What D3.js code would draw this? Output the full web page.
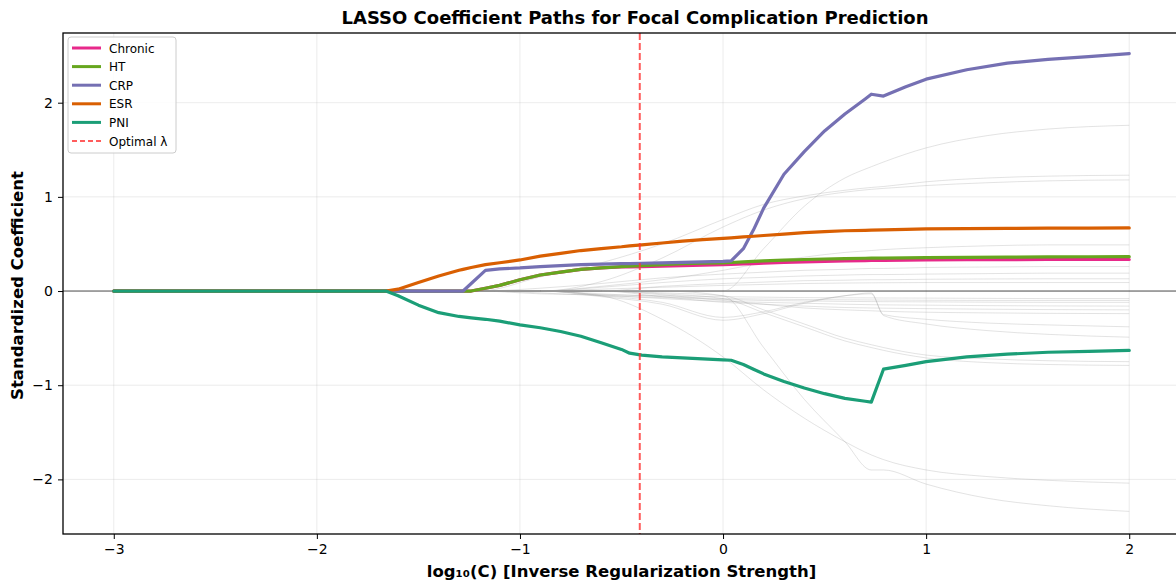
<!DOCTYPE html>
<html><head><meta charset="utf-8">
<script src="https://cdn.jsdelivr.net/npm/d3@7"></script>
<style>body{margin:0;background:#fff}svg{display:block;font-family:"DejaVu Sans",sans-serif}</style>
</head><body><svg id="c" width="1176" height="584"></svg>
<script>
// ---- Data ----
const xs = [-3, -2, -1.66, -1.6, -1.5, -1.4, -1.3, -1.28, -1.24, -1.17, -1.1, -1.0, -0.9, -0.8, -0.7, -0.6, -0.5, -0.46, -0.4, -0.3, -0.2, -0.1, 0, 0.04, 0.1, 0.15, 0.2, 0.3, 0.4, 0.5, 0.6, 0.7, 0.73, 0.79, 0.9, 1.0, 1.2, 1.4, 1.6, 1.8, 2.0];
const chronic = [0,0,0,0,0,0,0,0,0,0.03,0.06,0.12,0.17,0.20,0.23,0.245,0.255,0.257,0.26,0.265,0.27,0.275,0.28,0.282,0.287,0.292,0.297,0.303,0.31,0.315,0.32,0.323,0.324,0.325,0.327,0.33,0.332,0.334,0.335,0.335,0.335];
const ht = [0,0,0,0,0,0,0,0,0,0.03,0.06,0.12,0.17,0.20,0.23,0.245,0.26,0.265,0.27,0.28,0.29,0.295,0.30,0.303,0.31,0.315,0.32,0.328,0.335,0.34,0.345,0.348,0.349,0.35,0.352,0.355,0.358,0.36,0.362,0.364,0.365];
const crp = [0,0,0,0,0,0,0,0,0.08,0.22,0.235,0.245,0.26,0.27,0.28,0.285,0.29,0.292,0.295,0.30,0.305,0.31,0.315,0.32,0.45,0.65,0.88,1.24,1.48,1.70,1.88,2.04,2.09,2.07,2.17,2.25,2.35,2.42,2.46,2.49,2.52];
const esr = [0,0,0,0.02,0.09,0.16,0.22,0.23,0.25,0.28,0.30,0.33,0.37,0.40,0.43,0.45,0.47,0.48,0.49,0.51,0.53,0.545,0.56,0.565,0.575,0.582,0.59,0.605,0.62,0.63,0.64,0.645,0.647,0.65,0.655,0.66,0.663,0.665,0.667,0.669,0.67];
const pni = [0,0,0,-0.05,-0.15,-0.23,-0.27,-0.275,-0.285,-0.30,-0.32,-0.36,-0.39,-0.43,-0.48,-0.55,-0.62,-0.66,-0.68,-0.70,-0.71,-0.72,-0.73,-0.735,-0.78,-0.83,-0.88,-0.96,-1.03,-1.09,-1.14,-1.17,-1.18,-0.83,-0.79,-0.75,-0.70,-0.67,-0.65,-0.64,-0.63];
const seriesNames = ["Chronic", "HT", "CRP", "ESR", "PNI"];
const seriesValues = [chronic, ht, crp, esr, pni];
const seriesColors = ["#e7298a", "#66a61e", "#7570b3", "#d95f02", "#1b9e77"];
const optimalLogC = -0.41;

// background (non-highlighted) coefficient paths
const gx = [-3, -1.6, -1.2, -0.9, -0.6, -0.3, 0, 0.2, 0.4, 0.6, 0.73, 0.79, 1.0, 1.3, 1.6, 2.0];
const greyPaths = [
  [0,0,0,0,0,0,0,0.45,0.9,1.2,1.32,1.37,1.52,1.65,1.72,1.76],
  [0,0,0,0.15,0.3,0.5,0.76,0.92,1.01,1.07,1.10,1.11,1.16,1.2,1.22,1.23],
  [0,0,0,0,0.1,0.35,0.68,0.86,0.98,1.05,1.08,1.09,1.12,1.15,1.17,1.18],
  [0,0,0,0,0.05,0.12,0.22,0.3,0.36,0.41,0.43,0.44,0.46,0.48,0.49,0.49],
  [0,0,0,0.03,0.08,0.14,0.18,0.2,0.22,0.23,0.24,0.24,0.25,0.255,0.26,0.26],
  [0,0,0,0,0.04,0.09,0.13,0.145,0.16,0.17,0.175,0.175,0.18,0.185,0.19,0.19],
  [0,0,0,0,0,0.05,0.08,0.095,0.11,0.115,0.12,0.12,0.125,0.128,0.13,0.13],
  [0,0,0,0,0.02,0.04,0.06,0.07,0.08,0.085,0.087,0.088,0.09,0.09,0.09,0.09],
  [0,0,0,-0.03,-0.04,-0.05,-0.06,-0.065,-0.07,-0.072,-0.073,-0.074,-0.075,-0.078,-0.08,-0.08],
  [0,0,0,0,-0.03,-0.06,-0.08,-0.085,-0.09,-0.093,-0.095,-0.096,-0.098,-0.1,-0.1,-0.1],
  [0,0,0,-0.02,-0.05,-0.07,-0.09,-0.1,-0.105,-0.11,-0.112,-0.113,-0.115,-0.118,-0.12,-0.12],
  [0,0,0,0,-0.04,-0.08,-0.11,-0.12,-0.13,-0.14,-0.145,-0.147,-0.15,-0.155,-0.158,-0.16],
  [0,0,0,0,0,-0.06,-0.12,-0.14,-0.16,-0.175,-0.18,-0.182,-0.187,-0.193,-0.197,-0.2],
  [0,0,0,0,0,-0.04,-0.1,-0.14,-0.18,-0.2,-0.21,-0.215,-0.225,-0.232,-0.237,-0.24],
  [0,0,0,0,-0.06,-0.14,-0.31,-0.24,-0.13,-0.05,-0.02,-0.25,-0.3,-0.34,-0.36,-0.38],
  [0,0,0,0,-0.05,-0.12,-0.28,-0.22,-0.12,-0.05,-0.03,-0.26,-0.35,-0.42,-0.46,-0.49],
  [0,0,0,0,0,-0.02,-0.05,-0.2,-0.35,-0.5,-0.57,-0.6,-0.68,-0.72,-0.74,-0.75],
  [0,0,0,0,0,-0.03,-0.08,-0.23,-0.38,-0.53,-0.6,-0.63,-0.71,-0.76,-0.78,-0.79],
  [0,0,0,0,-0.05,-0.3,-0.7,-1.05,-1.35,-1.6,-1.74,-1.79,-1.9,-1.97,-2.01,-2.04],
  [0,0,0,0,0,0,-0.05,-0.6,-1.15,-1.6,-1.9,-1.9,-2.05,-2.2,-2.28,-2.34]
];
const xTicks = [-3, -2, -1, 0, 1, 2];
const yTicks = [-2, -1, 0, 1, 2];

// ---- Layout ----
const svg = d3.select("#c");
const L = 63, R = 1180, T = 33, B = 534;
const x = d3.scaleLinear().domain([-3.25, 2.25]).range([L, R]);
const y = d3.scaleLinear().domain([-2.58, 2.74]).range([B, T]);

svg.append("defs").append("clipPath").attr("id", "clip")
  .append("rect").attr("x", L).attr("y", T).attr("width", R - L).attr("height", B - T);

// grid
const grid = svg.append("g");
grid.selectAll(".gx").data(xTicks).enter().append("line")
  .attr("x1", d => x(d)).attr("x2", d => x(d)).attr("y1", T).attr("y2", B)
  .attr("stroke", "#b0b0b0").attr("stroke-opacity", 0.3).attr("stroke-width", 0.8);
grid.selectAll(".gy").data(yTicks).enter().append("line")
  .attr("x1", L).attr("x2", R).attr("y1", d => y(d)).attr("y2", d => y(d))
  .attr("stroke", "#b0b0b0").attr("stroke-opacity", 0.3).attr("stroke-width", 0.8);

const plot = svg.append("g").attr("clip-path", "url(#clip)");

// zero line
plot.append("line").attr("x1", L).attr("x2", R).attr("y1", y(0)).attr("y2", y(0))
  .attr("stroke", "#000").attr("stroke-opacity", 0.75).attr("stroke-width", 0.9);

// grey paths
const gline = d3.line().x((d, i) => x(gx[i])).y(d => y(d)).curve(d3.curveMonotoneX);
plot.selectAll(".grey").data(greyPaths).enter().append("path")
  .attr("d", gline).attr("fill", "none").attr("stroke", "#999")
  .attr("stroke-opacity", 0.3).attr("stroke-width", 0.9);

// highlighted
const line = d3.line().x((d, i) => x(xs[i])).y(d => y(d));
seriesValues.forEach((vals, k) => {
  plot.append("path").attr("d", line(vals)).attr("fill", "none")
    .attr("stroke", seriesColors[k]).attr("stroke-width", 3.2)
    .attr("stroke-linejoin", "round").attr("stroke-linecap", "round");
});

// optimal lambda
plot.append("line").attr("x1", x(optimalLogC)).attr("x2", x(optimalLogC)).attr("y1", T).attr("y2", B)
  .attr("stroke", "#ff3333").attr("stroke-opacity", 0.8).attr("stroke-width", 2)
  .attr("stroke-dasharray", "7,3");

// axes
const fmt = d => d3.format("")(d).replace("-", "\u2212");
const xAxis = svg.append("g").attr("transform", `translate(0,${B})`)
  .call(d3.axisBottom(x).tickValues(xTicks).tickSize(5).tickPadding(5).tickFormat(fmt));
const yAxis = svg.append("g").attr("transform", `translate(${L},0)`)
  .call(d3.axisLeft(y).tickValues(yTicks).tickSize(5).tickPadding(5).tickFormat(fmt));
[xAxis, yAxis].forEach(a => {
  a.select(".domain").remove();
  a.selectAll("text").attr("font-size", 14).attr("fill", "#000").attr("font-family", "DejaVu Sans");
  a.selectAll("line").attr("stroke", "#000").attr("stroke-width", 1);
});

// spines
svg.append("rect").attr("x", L).attr("y", T).attr("width", R - L).attr("height", B - T)
  .attr("fill", "none").attr("stroke", "#000").attr("stroke-width", 1.3);

// labels
svg.append("text").attr("x", 635).attr("y", 24).attr("text-anchor", "middle")
  .attr("font-size", 18).attr("font-weight", "bold").text("LASSO Coefficient Paths for Focal Complication Prediction");
svg.append("text").attr("x", (L + R) / 2).attr("y", 577).attr("text-anchor", "middle")
  .attr("font-size", 16.5).attr("font-weight", "bold").text("log\u2081\u2080(C) [Inverse Regularization Strength]");
svg.append("text").attr("transform", `translate(23,${(T + B) / 2 + 2}) rotate(-90)`).attr("text-anchor", "middle")
  .attr("font-size", 16.5).attr("font-weight", "bold").text("Standardized Coefficient");

// legend
const lg = svg.append("g");
lg.append("rect").attr("x", 68).attr("y", 37).attr("width", 108).attr("height", 116).attr("rx", 3)
  .attr("fill", "#fff").attr("fill-opacity", 0.85).attr("stroke", "#ccc").attr("stroke-width", 1);
const items = seriesNames.map((n, i) => ({ name: n, color: seriesColors[i], dash: null }))
  .concat([{ name: "Optimal \u03bb", color: "#ff3333", dash: "5,3" }]);
items.forEach((it, i) => {
  const yy = 48 + i * 18.6;
  lg.append("line").attr("x1", 72).attr("x2", 101).attr("y1", yy).attr("y2", yy)
    .attr("stroke", it.color).attr("stroke-width", it.dash ? 2 : 3)
    .attr("stroke-opacity", it.dash ? 0.8 : 1)
    .attr("stroke-dasharray", it.dash);
  lg.append("text").attr("x", 109).attr("y", yy + 4.5).attr("font-size", 12).text(it.name);
});
</script></body></html>
